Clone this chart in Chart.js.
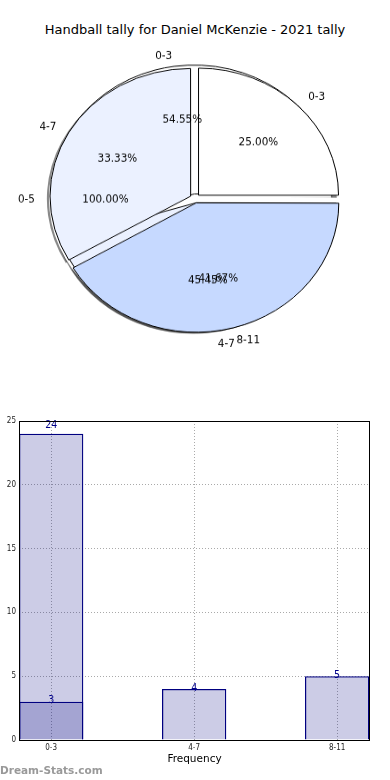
<!DOCTYPE html>
<html>
<head>
<meta charset="utf-8">
<script src="https://cdn.jsdelivr.net/npm/chart.js@4"></script>
<style>
body { margin: 0; background: #fff; }
#page { position: relative; width: 390px; height: 780px; overflow: hidden; font-family: 'DejaVu Sans', sans-serif; }
#title { position: absolute; top: 21px; left: 0; width: 390px; text-align: center; font-size: 13px; line-height: 18px; color: #000; }
.pie { position: absolute; left: 0; top: 40px; transform: scaleY(0.908); transform-origin: 0 0; }
#bars { position: absolute; left: 0; top: 405px; }
#mark { position: absolute; left: 0; top: 764px; font-size: 10.5px; font-weight: bold; line-height: 13px; color: #999; }
</style>
</head>
<body>
<div id="page">
  <div id="title">Handball tally for Daniel McKenzie - 2021 tally</div>
  <canvas id="pieC" class="pie" width="390" height="349"></canvas>
  <canvas id="pieA" class="pie" width="390" height="349"></canvas>
  <canvas id="pieB" class="pie" width="390" height="349"></canvas>
  <canvas id="bars" width="390" height="375"></canvas>
  <div id="mark">Dream-Stats.com</div>
</div>
<script>
// pie data - the source draws three pies on top of each other
const pieALabels = ['0-3', '4-7'];
const pieAValues = [6, 5];
const pieBLabels = ['0-3', '4-7', '8-11'];
const pieBValues = [3, 4, 5];
const pieCLabels = ['0-5'];
const pieCValues = [24];

// bar data
const barCategories = ['0-3', '4-7', '8-11'];
const barTotals = [24, null, null];
const barCounts = [3, 4, 5];

const sliceColors = ['#ffffff', '#ebf1ff', '#c6d9ff'];
const K = 0.908;      // pies are squashed vertically (css)
const PIE_R = 141;
const EXPLODE = 5;

Chart.defaults.font.family = "'DejaVu Sans', sans-serif";

function put(ctx, text, x, y, align) {
    ctx.save();
    ctx.translate(x, y);
    ctx.scale(1, 1 / K);
    ctx.textAlign = align;
    ctx.fillText(text, 0, 1.6);
    ctx.restore();
}

let lowerPies = [];
let allPies = [];

// all pie texts go on the top canvas
const pieText = {
    id: 'pieText',
    afterDraw(chart) {
        const ctx = chart.ctx;
        ctx.save();
        ctx.fillStyle = '#000';
        ctx.font = "10.4px 'DejaVu Sans'";
        ctx.textBaseline = 'middle';
        lowerPies.concat([chart]).forEach(p => {
            const data = p.data.datasets[0].data;
            const total = data.reduce((a, b) => a + b, 0);
            p.getDatasetMeta(0).data.forEach((arc, i) => {
                const mid = (arc.startAngle + arc.endAngle) / 2;
                const c = Math.cos(mid), s = Math.sin(mid);
                const cx = arc.x + c * EXPLODE, cy = arc.y + s * EXPLODE;
                put(ctx, p.data.labels[i], cx + c * PIE_R * 1.1, cy + s * PIE_R * 1.1, c > 0 ? 'left' : 'right');
                put(ctx, (data[i] / total * 100).toFixed(2) + '%', cx + c * PIE_R * 0.6, cy + s * PIE_R * 0.6, 'center');
            });
        });
        ctx.restore();
    }
};

// shadows of every wedge, under everything (bottom canvas)
const shadow = {
    id: 'shadow',
    beforeDatasetsDraw(chart) {
        const ctx = chart.ctx;
        ctx.save();
        ctx.fillStyle = 'rgba(40,40,40,0.55)';
        allPies.forEach(p => {
            p.getDatasetMeta(0).data.forEach(arc => {
                const mid = (arc.startAngle + arc.endAngle) / 2;
                const cx = arc.x + Math.cos(mid) * EXPLODE - 2.8;
                const cy = arc.y + Math.sin(mid) * EXPLODE + 2.9;
                ctx.beginPath();
                if (arc.endAngle - arc.startAngle < 6.28) ctx.moveTo(cx, cy);
                ctx.arc(cx, cy, PIE_R, arc.startAngle, arc.endAngle);
                ctx.closePath();
                ctx.fill();
            });
        });
        ctx.restore();
    }
};

function makePie(id, labels, values, radius, border, extra) {
    const colors = sliceColors.slice(0, values.length);
    // matplotlib goes counter-clockwise from 3 o'clock, so reverse and start at 90
    return new Chart(document.getElementById(id), {
        type: 'pie',
        data: {
            labels: labels.slice().reverse(),
            datasets: [{
                data: values.slice().reverse(),
                backgroundColor: colors.reverse(),
                borderColor: '#000',
                borderWidth: border,
                offset: EXPLODE * 4
            }]
        },
        options: {
            responsive: false,
            animation: false,
            events: [],
            rotation: 90,
            radius: radius,
            plugins: { legend: { display: false }, tooltip: { enabled: false } }
        },
        plugins: extra
    });
}

const pieA = makePie('pieA', pieALabels, pieAValues, PIE_R - 4, 1, []);
const pieB = makePie('pieB', pieBLabels, pieBValues, PIE_R - 1, 1, [pieText]);
allPies = [pieA, pieB];
const pieC = makePie('pieC', pieCLabels, pieCValues, PIE_R - 5, 0, [shadow]);
lowerPies = [pieC, pieA];
pieB.draw();

// ---- bar chart ----
function toPoints(arr) {
    return arr.map((v, i) => ({ x: i, y: v })).filter(p => p.y !== null);
}

const valueLabels = {
    id: 'valueLabels',
    afterDatasetsDraw(chart) {
        const ctx = chart.ctx;
        ctx.save();
        ctx.fillStyle = '#00008b';
        ctx.font = "10.5px 'DejaVu Sans Condensed', 'DejaVu Sans'";
        ctx.textAlign = 'center';
        ctx.textBaseline = 'middle';
        chart.data.datasets.forEach((ds, d) => {
            chart.getDatasetMeta(d).data.forEach((bar, i) => {
                ctx.fillText(ds.data[i].y, bar.x, bar.y + (d === 0 ? -8.5 : -1));
            });
        });
        ctx.restore();
    }
};

const frame = {
    id: 'frame',
    afterDatasetsDraw(chart) {
        const a = chart.chartArea, ctx = chart.ctx;
        ctx.save();
        ctx.strokeStyle = '#000';
        ctx.lineWidth = 1;
        ctx.strokeRect(a.left + 0.5, a.top + 0.5, a.right - a.left - 1, a.bottom - a.top);
        ctx.restore();
    }
};

const tickFont = { family: "'DejaVu Sans Condensed', 'DejaVu Sans'", size: 8 };
const barStyle = {
    backgroundColor: 'rgba(0,0,128,0.2)',
    borderColor: '#000080',
    borderWidth: 1.3,
    grouped: false,
    barPercentage: 0.45,
    categoryPercentage: 1
};

new Chart(document.getElementById('bars'), {
    type: 'bar',
    data: {
        datasets: [
            Object.assign({ data: toPoints(barTotals) }, barStyle),
            Object.assign({ data: toPoints(barCounts) }, barStyle)
        ]
    },
    options: {
        responsive: false,
        animation: false,
        events: [],
        layout: { padding: { top: 16, right: 20, left: 0, bottom: 0 } },
        scales: {
            x: {
                type: 'linear',
                offset: false,
                min: -0.225,
                max: 2.23,
                afterBuildTicks: s => { s.ticks = barCategories.map((c, i) => ({ value: i })); },
                afterFit: s => { s.height = 40; },
                ticks: { callback: v => barCategories[v], font: tickFont, color: '#222', padding: 3, autoSkip: false, maxRotation: 0 },
                grid: { color: '#aaaaaa', drawTicks: false, offset: false },
                border: { display: false, dash: [1, 2] },
                title: { display: true, text: 'Frequency', font: { size: 10.5 }, color: '#000', padding: { top: 0, bottom: 14 } }
            },
            y: {
                min: 0,
                max: 25,
                afterFit: s => { s.width = 19; },
                ticks: { stepSize: 5, font: tickFont, color: '#222', padding: 3 },
                grid: { color: '#aaaaaa', drawTicks: false },
                border: { display: false, dash: [1, 2] }
            }
        },
        plugins: { legend: { display: false }, tooltip: { enabled: false } }
    },
    plugins: [valueLabels, frame]
});
</script>
</body>
</html>
